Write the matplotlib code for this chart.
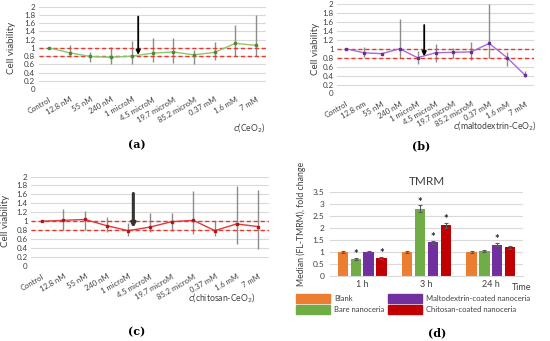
import matplotlib
matplotlib.use('Agg')
import matplotlib.pyplot as plt
from matplotlib.patches import Patch

plt.rcParams['font.family'] = ['Lato', 'DejaVu Sans']

# data
conc = ['Control', '12.8 nM', '55 nM', '240 nM', '1 microM', '4.5 microM',
        '19.7 microM', '85.2 microM', '0.37 mM', '1.6 mM', '7 mM']
conc_b = ['Control', '12.8 nm', '55 nM', '240 nM', '1 microM', '4.5 microM',
          '19.7 microM', '85.2 microM', '0.37 mM', '1.6 mM', '7 mM']

ceo2 = [1.00, 0.88, 0.79, 0.77, 0.80, 0.87, 0.90, 0.83, 0.89, 1.11, 1.06]
ceo2_lo = [None, 0.77, 0.66, 0.60, 0.60, 0.65, 0.64, 0.61, 0.70, 0.79, 0.79]
ceo2_hi = [None, 1.07, 0.91, 1.03, 1.17, 1.25, 1.23, 0.95, 1.15, 1.56, 1.80]

malto = [1.00, 0.91, 0.89, 1.00, 0.80, 0.91, 0.92, 0.93, 1.12, 0.80, 0.41]
malto_lo = [None, 0.82, None, 0.79, 0.67, 0.70, 0.79, 0.75, 0.79, 0.61, 0.36]
malto_hi = [None, 1.05, None, 1.66, 0.96, 1.11, 1.01, 1.14, 2.00, 0.93, 0.51]

chito = [1.00, 1.02, 1.04, 0.90, 0.79, 0.87, 0.99, 1.02, 0.79, 0.94, 0.88]
chito_lo = [None, 0.80, 0.80, 0.76, 0.68, 0.75, 0.78, 0.71, 0.67, 0.49, 0.39]
chito_hi = [None, 1.28, 1.22, 1.10, 0.96, 1.18, 1.19, 1.67, 1.01, 1.78, 1.69]

times = ['1 h', '3 h', '24 h']
groups = ['Blank', 'Bare nanoceria', 'Maltodextrin-coated nanoceria', 'Chitosan-coated nanoceria']
tmrm = [[1.00, 1.00, 1.00],
        [0.71, 2.80, 1.03],
        [1.00, 1.40, 1.31],
        [0.75, 2.11, 1.19]]
tmrm_err = [[0.04, 0.04, 0.04],
            [0.04, 0.14, 0.04],
            [0.04, 0.07, 0.07],
            [0.04, 0.11, 0.06]]
stars = [[False, False, False],
         [True, True, False],
         [False, True, True],
         [True, True, False]]
group_colors = ['#ED7D31', '#70AD47', '#7030A0', '#C00000']

W, H = 550, 341
def box(l, t, r, b):
    return [l / W, 1 - b / H, (r - l) / W, (b - t) / H]

fig = plt.figure(figsize=(W / 100, H / 100), dpi=100)


def viability(rect, labels, vals, lo, hi, lcol, mcol, xlab, xlab_pos, ylab_x, arrow, acol, alw):
    ax = fig.add_axes(box(*rect))
    x = list(range(len(vals)))
    ax.set_xlim(-0.5, len(vals) - 0.5)
    ax.set_ylim(0, 2)
    ax.set_yticks([i / 5 for i in range(11)])
    ax.set_yticklabels(['0', '0.2', '0.4', '0.6', '0.8', '1', '1.2', '1.4', '1.6', '1.8', '2'])
    ax.grid(axis='y', color='#D9D9D9', lw=0.8)
    ax.set_axisbelow(True)
    for s in ax.spines.values():
        s.set_visible(False)
    ax.tick_params(length=0, labelsize=5.8, colors='#404040', pad=2.5)
    ax.set_xticks(x)
    ax.set_xticklabels(labels, rotation=30, ha='right', rotation_mode='anchor')
    ax.tick_params(axis='x', pad=5, labelsize=5.5)
    for i in x:
        if lo[i] is not None:
            ax.vlines(i, lo[i], hi[i], color='#8C8C8C', lw=1, zorder=2)
    ax.axhline(1.0, color='#E8392E', lw=1.0, ls=(0, (3, 2)), zorder=3)
    ax.axhline(0.8, color='#E8392E', lw=1.0, ls=(0, (3, 2)), zorder=3)
    ax.plot(x, vals, color=lcol, lw=1, marker='s', ms=1.6, mfc=mcol, mec=mcol, zorder=4)
    ax.annotate('', xy=(arrow[0], arrow[2]), xytext=(arrow[0], arrow[1]),
                arrowprops=dict(arrowstyle='-|>', color=acol, lw=alw, mutation_scale=6, shrinkA=0, shrinkB=0),
                zorder=5)
    fig.text(xlab_pos[0] / W, 1 - xlab_pos[1] / H, xlab, fontsize=6.2, color='#404040', ha='center', va='center')
    fig.text(ylab_x / W, 1 - (rect[1] + rect[3]) / 2 / H, 'Cell viability', rotation=90,
             fontsize=7, color='#404040', ha='center', va='center')
    return ax


viability((38.6, 6.7, 266.4, 89), conc, ceo2, ceo2_lo, ceo2_hi, '#8CC66B', '#4E8A2E',
          r'$c$(CeO$_2$)', (249, 127), 12, (4.31, 1.76, 0.83), 'black', 1.3)
viability((337, 4, 534, 93.5), conc_b, malto, malto_lo, malto_hi, '#A66BD6', '#6A2C99',
          r'$c$(maltodextrin-CeO$_2$)', (495, 125), 316, (4.37, 1.53, 0.83), 'black', 1.3)
viability((31, 176.5, 269, 266), conc, chito, chito_lo, chito_hi, '#E03A3A', '#B01818',
          r'$c$(chitosan-CeO$_2$)', (222, 297), 6, (4.23, 1.62, 0.85), '#333333', 2.2)

# panel d
axd = fig.add_axes(box(330, 192, 523, 276))
n = len(groups)
bw = 0.16
for g in range(n):
    xs = [t + (g - (n - 1) / 2) * 0.2 for t in range(len(times))]
    axd.bar(xs, tmrm[g], width=bw, color=group_colors[g], zorder=2,
            yerr=tmrm_err[g], error_kw=dict(ecolor='#595959', elinewidth=0.8, capsize=1.2, capthick=0.8))
    for t in range(len(times)):
        if stars[g][t]:
            axd.text(xs[t], tmrm[g][t] + tmrm_err[g][t] + 0.13, '*', ha='center', va='center',
                     fontsize=8, color='#202020', fontweight='bold')
axd.set_xlim(-0.5, len(times) - 0.5)
axd.set_ylim(0, 3.5)
axd.set_yticks([i * 0.5 for i in range(8)])
axd.set_yticklabels(['0', '0.5', '1', '1.5', '2', '2.5', '3', '3.5'])
axd.grid(axis='y', color='#D9D9D9', lw=0.8)
axd.set_axisbelow(True)
for s in axd.spines.values():
    s.set_visible(False)
axd.spines['bottom'].set_visible(True)
axd.spines['bottom'].set_color('#D9D9D9')
axd.set_xticks(range(len(times)))
axd.set_xticklabels(times)
axd.tick_params(length=0, labelsize=6.5, colors='#404040', pad=3)
axd.tick_params(axis='y', labelsize=6, pad=4)
axd.set_title('TMRM', fontsize=8.5, color='#404040', pad=5)
fig.text(301 / W, 1 - 224 / H, 'Median (FL-TMRM), fold change', rotation=90,
         fontsize=6.3, color='#404040', ha='center', va='center')
fig.text(522 / W, 1 - 288 / H, 'Time', fontsize=6.5, color='#404040', ha='center', va='center')

handles = [Patch(color=c) for c in group_colors]
fig.legend(handles, groups, loc='upper left', bbox_to_anchor=(296 / W, 1 - 294 / H), ncol=2,
           frameon=False, fontsize=5.5, handlelength=4.4, handleheight=1.4, labelspacing=0.3,
           columnspacing=0.5, handletextpad=0.6, borderpad=0, borderaxespad=0, labelcolor='#404040')

# panel letters
for lab, px, py in [('(a)', 137, 145), ('(b)', 421, 146), ('(c)', 137, 332), ('(d)', 437, 333)]:
    fig.text(px / W, 1 - py / H, lab, fontsize=8, fontweight='bold', family='DejaVu Serif',
             ha='center', va='center')

fig.savefig('out.png', dpi=100)
